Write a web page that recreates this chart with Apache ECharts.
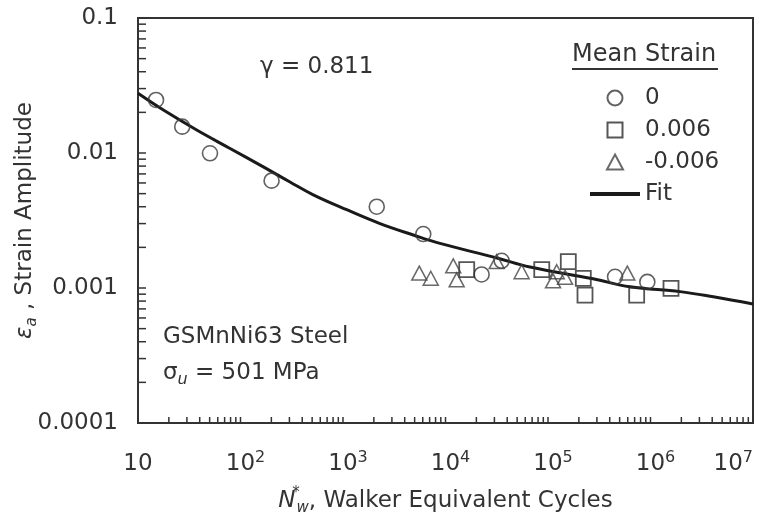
<!DOCTYPE html>
<html><head><meta charset="utf-8">
<script src="https://cdn.jsdelivr.net/npm/echarts@6/dist/echarts.min.js"></script>
<style>html,body{margin:0;padding:0;background:#fff}#c{width:761px;height:519px}</style>
</head><body><div id="c"></div>
<script>
// ---- data ----
const circleN   = [15.0, 27.0, 50.4, 201, 2134, 6070, 22500, 35300, 451000, 931000];
const circleEps = [0.0247, 0.01567, 0.00995, 0.00624, 0.0040, 0.00251, 0.00126, 0.00159, 0.00121, 0.00111];

const squareN   = [16100, 86900, 157800, 221000, 229600, 733000, 1585000];
const squareEps = [0.00137, 0.00137, 0.00157, 0.00118, 0.000887, 0.000887, 0.000995];

const triN   = [5550, 7180, 11900, 12850, 31600, 55300, 121600, 146600, 112000, 594000];
const triEps = [0.00129, 0.00118, 0.00146, 0.00115, 0.00157, 0.00132, 0.00132, 0.00120, 0.00113, 0.00129];

const fitN   = [10, 17.7, 37.4, 79.1, 167, 304, 513, 1086, 2296, 4853, 8830, 31770, 66700, 275000, 631000, 1940000, 4100000, 10000000];
const fitEps = [0.0277, 0.0208, 0.0148, 0.0108, 0.0079, 0.0061, 0.0049, 0.0038, 0.0030, 0.00247, 0.00214, 0.00167, 0.00143, 0.00117, 0.00102, 0.00094, 0.00086, 0.00076];

const xTickExp  = [1, 2, 3, 4, 5, 6, 7];
const xTickBase = ['10', '10', '10', '10', '10', '10', '10'];
const xTickSup  = ['', '2', '3', '4', '5', '6', '7'];
const yTickExp    = [-4, -3, -2, -1];
const yTickLabels = ['0.0001', '0.001', '0.01', '0.1'];

const legendNames = ['0', '0.006', '-0.006', 'Fit'];
const legendIcons = ['circle', 'path://M0,0H15V15H0Z', 'path://M7.5,0L15,14H0Z', 'path://M0,0H50V4H0Z'];

// ---- styling ----
const FONT = 'DejaVu Sans';
const TXT = '#333';

function zip(a, b) { return a.map((v, i) => [v, b[i]]); }

// tick marks (major + minor) at log positions
const tickData = [];
for (let k = 1; k <= 6; k++) for (let m = 1; m <= 9; m++) tickData.push([m * Math.pow(10, k), 1e-4, 0]);
tickData.push([1e7, 1e-4, 0]);
for (let k = -4; k <= -2; k++) for (let m = 1; m <= 9; m++) tickData.push([10, m * Math.pow(10, k), 1]);
tickData.push([10, 0.1, 1]);

const chart = echarts.init(document.getElementById('c'), null, { renderer: 'canvas' });

const option = {
  animation: false,
  backgroundColor: '#fff',
  grid: { left: 138, right: 8, top: 18, bottom: 96, show: true, borderColor: '#333', borderWidth: 2, outerBoundsMode: 'none' },
  xAxis: {
    type: 'log', logBase: 10, min: 10, max: 1e7,
    axisLine: { show: false }, axisTick: { show: false }, splitLine: { show: false },
    name: '{n|N}{st|*}{w|w}{t|, Walker Equivalent Cycles}',
    nameLocation: 'middle', nameGap: 63, nameMoveOverlap: false,
    nameTextStyle: {
      rich: {
        n: { fontFamily: FONT, fontSize: 23, fontStyle: 'italic', color: TXT, lineHeight: 30 },
        st: { fontFamily: FONT, fontSize: 15, color: TXT, lineHeight: 14, verticalAlign: 'top', width: 1 },
        w: { fontFamily: FONT, fontSize: 15, fontStyle: 'italic', color: TXT, lineHeight: 14, verticalAlign: 'bottom' },
        t: { fontFamily: FONT, fontSize: 23, color: TXT, lineHeight: 30 }
      }
    },
    axisLabel: {
      margin: 27, showMinLabel: true, showMaxLabel: true, alignMaxLabel: 'right',
      lineHeight: 28,
      formatter: function (v) {
        const e = Math.round(Math.log10(v));
        const i = xTickExp.indexOf(e);
        if (i < 0) return '';
        if (!xTickSup[i]) return '{b|' + xTickBase[i] + '}';
        const sp = (e === 7) ? '' : '{sp| }';
        return sp + '{b|' + xTickBase[i] + '}{sup|' + xTickSup[i] + '}';
      },
      rich: {
        b: { fontFamily: FONT, fontSize: 23, color: TXT, lineHeight: 28 },
        sup: { fontFamily: FONT, fontSize: 16, color: TXT, lineHeight: 14, verticalAlign: 'top' },
        sp: { fontFamily: FONT, fontSize: 16, width: 10, lineHeight: 14 }
      }
    }
  },
  yAxis: {
    type: 'log', logBase: 10, min: 1e-4, max: 0.1,
    axisLine: { show: false }, axisTick: { show: false }, splitLine: { show: false },
    name: '{e|ε}{s|a}{t| , Strain Amplitude}',
    nameLocation: 'middle', nameGap: 98, nameRotate: 90, nameMoveOverlap: false,
    nameTextStyle: {
      rich: {
        e: { fontFamily: FONT, fontSize: 23, fontStyle: 'italic', color: TXT, lineHeight: 30 },
        s: { fontFamily: FONT, fontSize: 15, fontStyle: 'italic', color: TXT, lineHeight: 14, verticalAlign: 'bottom' },
        t: { fontFamily: FONT, fontSize: 23, color: TXT, lineHeight: 30 }
      }
    },
    axisLabel: {
      margin: 20, showMinLabel: true, showMaxLabel: true,
      fontFamily: FONT, fontSize: 23, color: TXT,
      formatter: function (v) {
        const e = Math.round(Math.log10(v));
        const i = yTickExp.indexOf(e);
        return i < 0 ? '' : yTickLabels[i];
      }
    }
  },
  legend: {
    data: legendNames.map((n, i) => ({ name: n, icon: legendIcons[i] })),
    orient: 'vertical', left: 585, top: 81, symbolKeepAspect: true,
    itemWidth: 50, itemHeight: 15, itemGap: 8, selectedMode: false,
    textStyle: { fontFamily: FONT, fontSize: 23, color: TXT, lineHeight: 24 }
  },
  graphic: [
    { type: 'text', x: 260, y: 67, style: { text: 'γ = 0.811', fontFamily: FONT, fontSize: 23, fill: TXT, verticalAlign: 'middle' } },
    { type: 'text', x: 572, y: 55, style: { text: 'Mean Strain', fontFamily: FONT, fontSize: 24, fill: TXT, verticalAlign: 'middle' } },
    { type: 'line', shape: { x1: 572, y1: 69, x2: 718, y2: 69 }, style: { stroke: '#333', lineWidth: 2 } },
    { type: 'text', x: 163, y: 337, style: { text: 'GSMnNi63 Steel', fontFamily: FONT, fontSize: 23, fill: TXT, verticalAlign: 'middle' } },
    { type: 'text', x: 163, y: 373, style: {
        text: '{s|σ}{u|u}{t| = 501 MPa}', verticalAlign: 'middle',
        rich: {
          s: { fontFamily: FONT, fontSize: 23, fill: TXT, lineHeight: 30 },
          u: { fontFamily: FONT, fontSize: 16, fontStyle: 'italic', fill: TXT, lineHeight: 14, verticalAlign: 'bottom' },
          t: { fontFamily: FONT, fontSize: 23, fill: TXT, lineHeight: 30 }
        }
      } }
  ],
  series: [
    {
      name: 'Fit', type: 'line', data: zip(fitN, fitEps), smooth: 0.4, symbol: 'none',
      lineStyle: { color: '#1a1a1a', width: 3 }, itemStyle: { color: '#1a1a1a' }, z: 2
    },
    {
      name: '0', type: 'scatter', data: zip(circleN, circleEps), symbol: 'circle', symbolSize: 15,
      itemStyle: { color: 'rgba(255,255,255,0)', borderColor: '#3a3a3a', borderWidth: 1.6 }, z: 3
    },
    {
      name: '0.006', type: 'scatter', data: zip(squareN, squareEps), symbol: 'rect', symbolSize: 15,
      itemStyle: { color: 'rgba(255,255,255,0)', borderColor: '#2a2a2a', borderWidth: 1.8 }, z: 3
    },
    {
      name: '-0.006', type: 'scatter', data: zip(triN, triEps), symbol: 'triangle', symbolSize: [15, 14],
      itemStyle: { color: 'rgba(255,255,255,0)', borderColor: '#444', borderWidth: 1.5 }, z: 3
    },
    {
      name: 'ticks', type: 'custom', data: tickData, silent: true, clip: false, z: 4,
      renderItem: function (params, api) {
        const p = api.coord([api.value(0), api.value(1)]);
        const isX = api.value(2) === 0;
        return {
          type: 'line',
          shape: isX ? { x1: p[0], y1: p[1], x2: p[0], y2: p[1] - 6 } : { x1: p[0], y1: p[1], x2: p[0] + 8, y2: p[1] },
          style: { stroke: '#333', lineWidth: 1.5 }
        };
      }
    }
  ]
};
chart.setOption(option);
</script>
</body></html>
